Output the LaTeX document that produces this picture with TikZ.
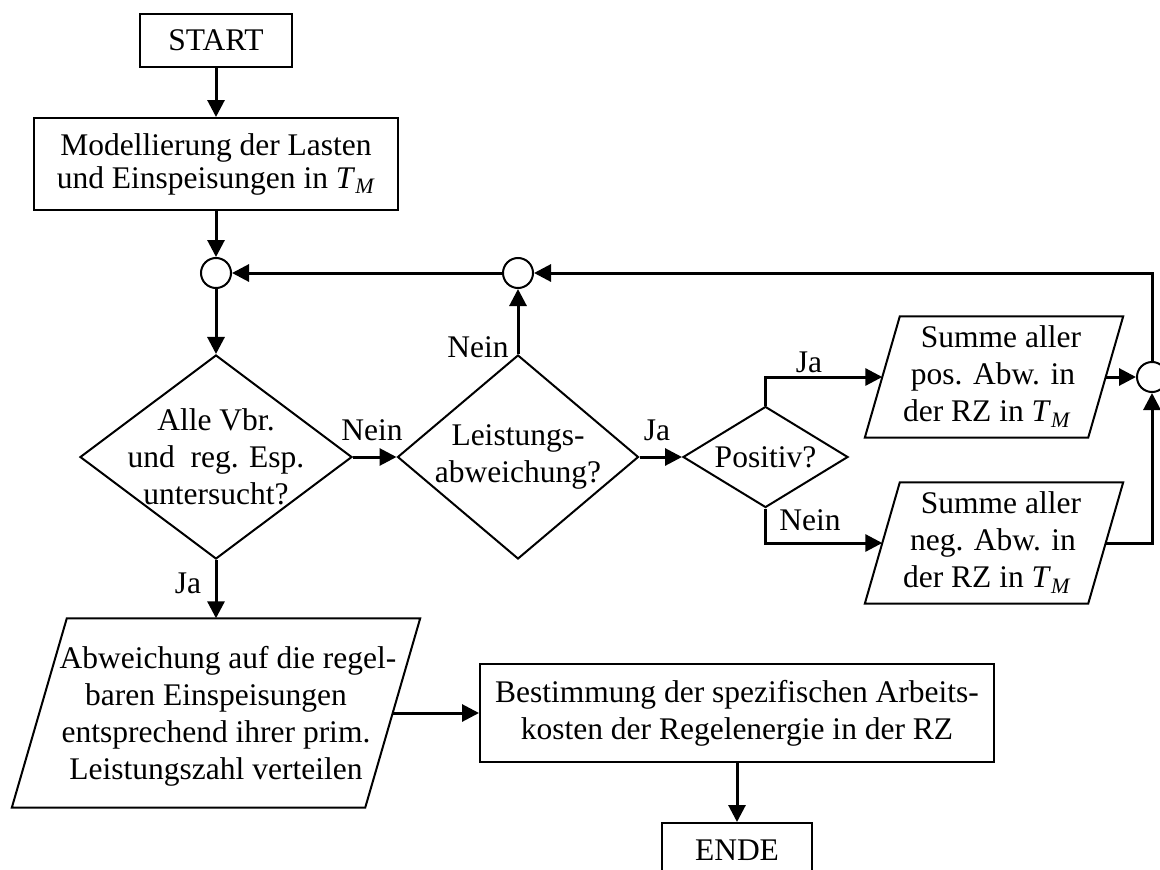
\documentclass[tikz,border=0pt]{standalone}
\usepackage{fontspec}
\setmainfont{Liberation Serif}
\usetikzlibrary{shapes.geometric,arrows.meta,calc}
\newcommand{\TM}{\textit{T}\textsubscript{\textit{M}}}
\begin{document}
\begin{tikzpicture}[x=1pt,y=-1pt,
  every node/.style={font=\fontsize{31.5}{37}\selectfont, inner sep=0pt},
  box/.style={draw, line width=2pt, align=center},
  dia/.style={draw, diamond, line width=2pt, inner sep=0pt},
  txt/.style={align=center},
  junc/.style={draw, circle, line width=2pt, minimum size=30pt, inner sep=0pt},
  conn/.style={line width=3pt, -{Triangle[length=17pt,width=17pt]}},
  outline/.style={line width=2pt, line join=miter},
]
\useasboundingbox (0,0) rectangle (1160,870);
\clip (0,0) rectangle (1160,870);

% boxes
\node[box, minimum width=152pt, minimum height=53pt] (start) at (216,40.5) {START};
\node[box, minimum width=364pt, minimum height=92pt, font=\fontsize{31.5}{33}\selectfont] (model) at (216,164)
  {Modellierung der Lasten\\und Einspeisungen in \TM};

% junctions
\node[junc] (c1) at (216,273) {};
\node[junc] (c2) at (518,273) {};
\node[junc] (c3) at (1152,377) {};

% decisions
\node[dia, minimum width=272pt, minimum height=204pt] (d1) at (216,457) {};
\node[txt] (d1t) at (216,457) {Alle Vbr.\\und~ reg. Esp.\\untersucht?};
\node[dia, minimum width=241pt, minimum height=204pt] (d2) at (518,457) {};
\node[txt] (d2t) at (518,457) {Leistungs-\\abweichung?};
\node[dia, minimum width=165pt, minimum height=101pt] (d3) at (765.5,457) {};
\node[txt] (d3t) at (765.5,457) {Positiv?};

% parallelograms (text nodes + outlines)
\node[txt, minimum width=223pt, minimum height=121pt] (su) at (994,377) {};
\node[txt] (sut) at (993,377) {\hspace*{16pt}Summe aller\\pos. Abw. in\\der RZ in \TM\hspace*{12pt}};
\node[txt, minimum width=223pt, minimum height=121pt] (sl) at (994,543) {};
\node[txt] (slt) at (993,543) {\hspace*{16pt}Summe aller\\neg. Abw. in\\der RZ in \TM\hspace*{12pt}};
\node[txt, minimum width=353pt, minimum height=189pt] (abw) at (216,713) {};
\node[txt] (abwt) at (216,716)
  {\hspace*{24pt}Abweichung auf die regel-\\baren Einspeisungen\\entsprechend ihrer prim.\\Leistungszahl verteilen};
\foreach \n/\s in {su/17.5, sl/17.5, abw/27.5}{
  \draw[outline] ($(\n.north west)+(\s,0)$) -- ($(\n.north east)+(\s,0)$)
    -- ($(\n.south east)+(-\s,0)$) -- ($(\n.south west)+(-\s,0)$) -- cycle;
}

\node[box, minimum width=514pt, minimum height=98pt] (best) at (737,713)
  {Bestimmung der spezifischen Arbeits-\\kosten der Regelenergie in der RZ};
\node[box, minimum width=150pt, minimum height=70pt] (ende) at (737,858) {};
\node (endet) at (737,850) {ENDE};

% connectors
\draw[conn] (start) -- (model);
\draw[conn] (model) -- (c1);
\draw[conn] (c1) -- (d1);
\draw[conn] (d1) -- (d2);
\draw[conn] (d2) -- (c2);
\draw[conn] (c2) -- (c1);
\draw[conn] (d2) -- (d3);
\draw[conn] (d3.north) |- (su.west);
\draw[conn] (d3.south) |- (sl.west);
\draw[conn] (su) -- (c3);
\draw[conn] (sl.east) -| (c3.south);
\draw[conn] (c3.north) |- (c2.east);
\draw[conn] (d1.south) -- (abw.north);
\draw[conn] (abw) -- (best);
\draw[conn] (best) -- (ende);

% labels
\node (l1) at (372,430) {Nein};
\node (l2) at (478,347) {Nein};
\node (l3) at (657,430) {Ja};
\node (l4) at (809,362) {Ja};
\node (l5) at (810,520) {Nein};
\node (l6) at (188,583) {Ja};
\end{tikzpicture}
\end{document}
